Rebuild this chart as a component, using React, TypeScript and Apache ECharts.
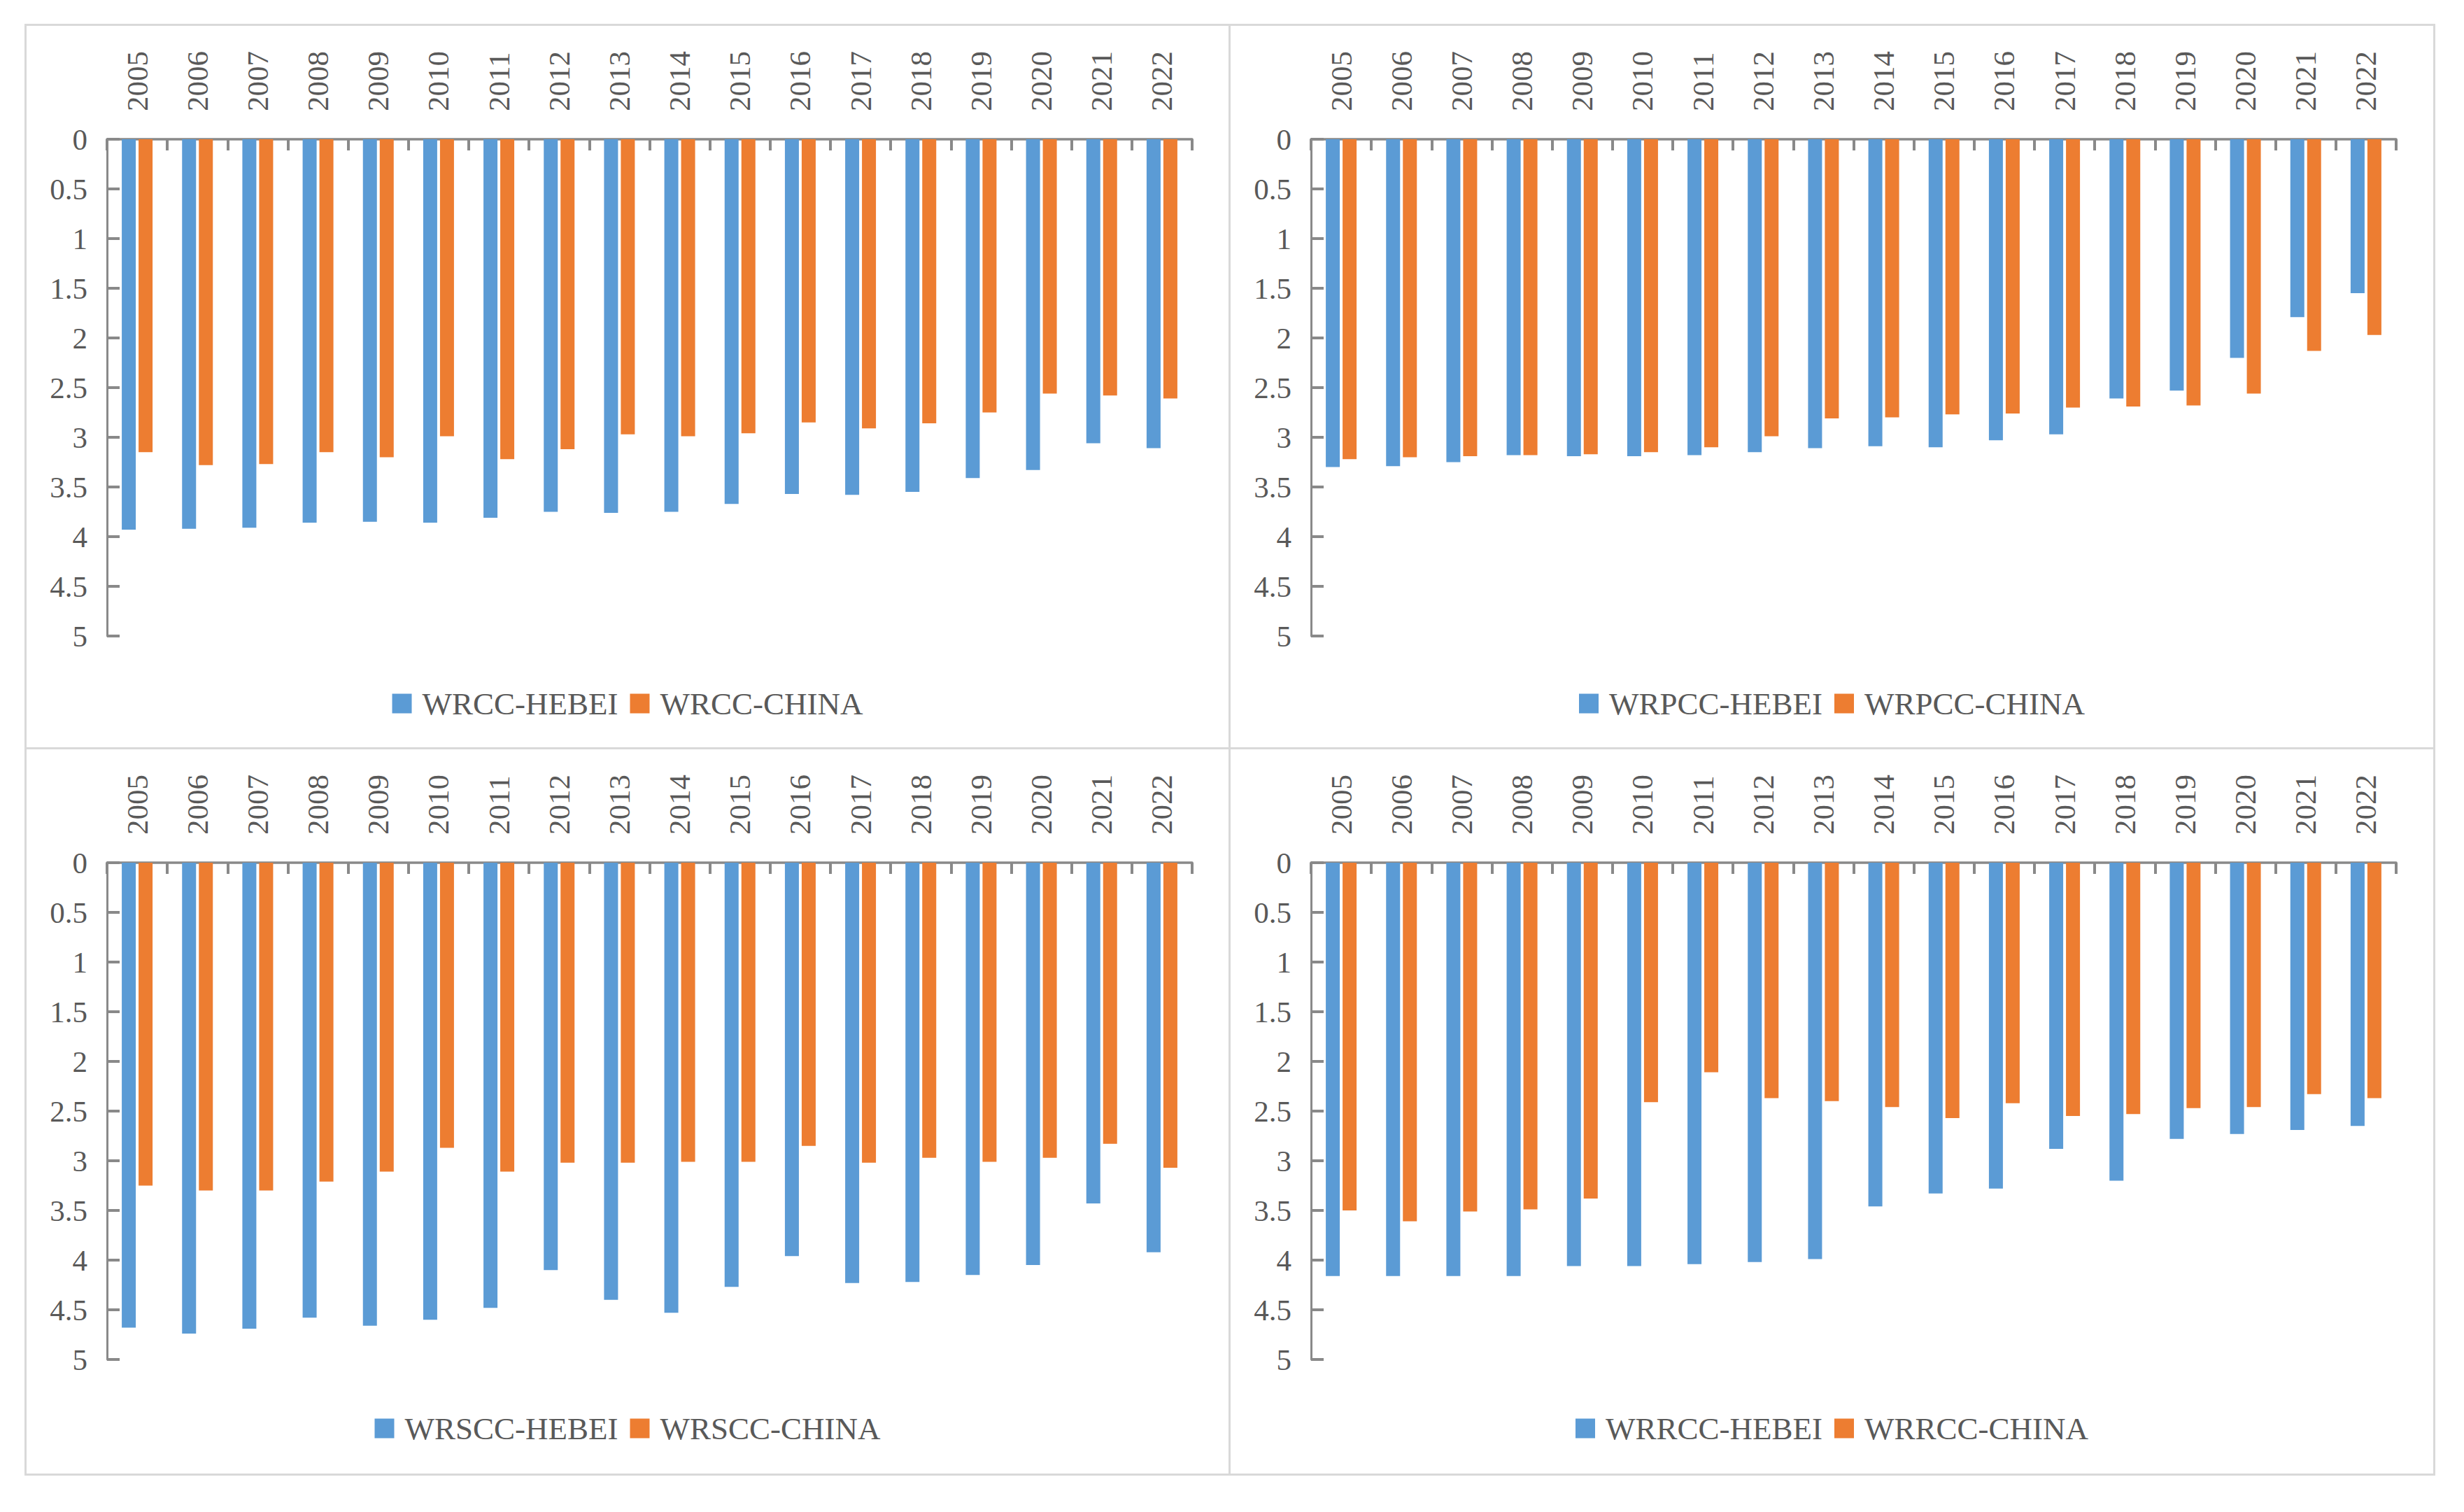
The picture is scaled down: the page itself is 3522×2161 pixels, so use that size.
import { useEffect, useRef } from "react";
import * as echarts from "echarts";

const years = [
  "2005", "2006", "2007", "2008", "2009", "2010", "2011", "2012", "2013",
  "2014", "2015", "2016", "2017", "2018", "2019", "2020", "2021", "2022",
];

const wrccHebei = [3.93, 3.92, 3.91, 3.86, 3.85, 3.86, 3.81, 3.75, 3.76, 3.75, 3.67, 3.57, 3.58, 3.55, 3.41, 3.33, 3.06, 3.11];
const wrccChina = [3.15, 3.28, 3.27, 3.15, 3.2, 2.99, 3.22, 3.12, 2.97, 2.99, 2.96, 2.85, 2.91, 2.86, 2.75, 2.56, 2.58, 2.61];

const wrpccHebei = [3.3, 3.29, 3.25, 3.18, 3.19, 3.19, 3.18, 3.15, 3.11, 3.09, 3.1, 3.03, 2.97, 2.61, 2.53, 2.2, 1.79, 1.55];
const wrpccChina = [3.22, 3.2, 3.19, 3.18, 3.17, 3.15, 3.1, 2.99, 2.81, 2.8, 2.77, 2.76, 2.7, 2.69, 2.68, 2.56, 2.13, 1.97];

const wrsccHebei = [4.68, 4.74, 4.69, 4.58, 4.66, 4.6, 4.48, 4.1, 4.4, 4.53, 4.27, 3.96, 4.23, 4.22, 4.15, 4.05, 3.43, 3.92];
const wrsccChina = [3.25, 3.3, 3.3, 3.21, 3.11, 2.87, 3.11, 3.02, 3.02, 3.01, 3.01, 2.85, 3.02, 2.97, 3.01, 2.97, 2.83, 3.07];

const wrrccHebei = [4.16, 4.16, 4.16, 4.16, 4.06, 4.06, 4.04, 4.02, 3.99, 3.46, 3.33, 3.28, 2.88, 3.2, 2.78, 2.73, 2.69, 2.65];
const wrrccChina = [3.5, 3.61, 3.51, 3.49, 3.38, 2.41, 2.11, 2.37, 2.4, 2.46, 2.57, 2.42, 2.55, 2.53, 2.47, 2.46, 2.33, 2.37];

const yTicks = { min: 0, max: 5, step: 0.5 };

const FONT = "Liberation Serif";
const TEXT = "#595959";
const AXIS = "#898989";
const BLUE = "#5B9BD5";
const ORANGE = "#ED7D31";

const cols = [36, 1757, 3479];
const rows = [35, 1069, 2107];

type PanelProps = {
  prefix: string;
  hebei: number[];
  china: number[];
  left: number;
  top: number;
  width: number;
  height: number;
  legendTop: number;
};

function Panel({ prefix, hebei, china, left, top, width, height, legendTop }: PanelProps) {
  const chartRef = useRef<HTMLDivElement>(null);

  useEffect(() => {
    const chart = echarts.init(chartRef.current, null, { renderer: "svg" });

    const option = {
      animation: false,
      textStyle: { fontFamily: FONT },
      grid: {
        left: 115,
        top: 162,
        width: 1551,
        height: 710,
        containLabel: false,
      },
      legend: {
        top: legendTop,
        left: "center",
        icon: "rect",
        itemWidth: 28,
        itemHeight: 28,
        itemGap: 17,
        textStyle: {
          fontFamily: FONT,
          fontSize: 45,
          color: TEXT,
          padding: [0, 0, 0, 10],
        },
        data: [prefix + "-HEBEI", prefix + "-CHINA"],
      },
      xAxis: {
        type: "category",
        position: "top",
        data: years,
        axisLine: { show: true, lineStyle: { color: AXIS, width: 3.5 } },
        axisTick: {
          show: true,
          inside: true,
          length: 16,
          lineStyle: { color: AXIS, width: 4 },
        },
        axisLabel: {
          rotate: 90,
          margin: 40,
          fontFamily: FONT,
          fontSize: 43,
          color: TEXT,
        },
        splitLine: { show: false },
      },
      yAxis: {
        type: "value",
        inverse: true,
        min: yTicks.min,
        max: yTicks.max,
        interval: yTicks.step,
        axisLine: { show: true, lineStyle: { color: AXIS, width: 3 } },
        axisTick: {
          show: true,
          inside: true,
          length: 18,
          lineStyle: { color: AXIS, width: 4 },
        },
        axisLabel: {
          margin: 28,
          fontFamily: FONT,
          fontSize: 43,
          color: TEXT,
        },
        splitLine: { show: false },
      },
      series: [
        {
          name: prefix + "-HEBEI",
          type: "bar",
          data: hebei,
          barWidth: 20,
          barGap: "20%",
          itemStyle: { color: BLUE },
        },
        {
          name: prefix + "-CHINA",
          type: "bar",
          data: china,
          barWidth: 20,
          barGap: "20%",
          itemStyle: { color: ORANGE },
        },
      ],
    };

    chart.setOption(option);

    return () => {
      chart.dispose();
    };
  }, [prefix, hebei, china, legendTop]);

  return (
    <div
      style={{
        position: "absolute",
        left: left - 1.5,
        top: top - 1.5,
        width: width + 3,
        height: height + 3,
        border: "3px solid #D9D9D9",
        boxSizing: "border-box",
        background: "#fff",
      }}
    >
      <div ref={chartRef} style={{ width: "100%", height: "100%" }} />
    </div>
  );
}

export default function App() {
  const panels = [
    { prefix: "WRCC", hebei: wrccHebei, china: wrccChina, c: 0, r: 0, lt: 941 },
    { prefix: "WRPCC", hebei: wrpccHebei, china: wrpccChina, c: 1, r: 0, lt: 941 },
    { prefix: "WRSCC", hebei: wrsccHebei, china: wrsccChina, c: 0, r: 1, lt: 943 },
    { prefix: "WRRCC", hebei: wrrccHebei, china: wrrccChina, c: 1, r: 1, lt: 943 },
  ];

  return (
    <div
      style={{
        position: "fixed",
        left: 0,
        top: 0,
        width: 3522,
        height: 2161,
        background: "#fff",
      }}
    >
      {panels.map((p) => (
        <Panel
          key={p.prefix}
          prefix={p.prefix}
          hebei={p.hebei}
          china={p.china}
          left={cols[p.c]}
          top={rows[p.r]}
          width={cols[p.c + 1] - cols[p.c]}
          height={rows[p.r + 1] - rows[p.r]}
          legendTop={p.lt}
        />
      ))}
    </div>
  );
}
